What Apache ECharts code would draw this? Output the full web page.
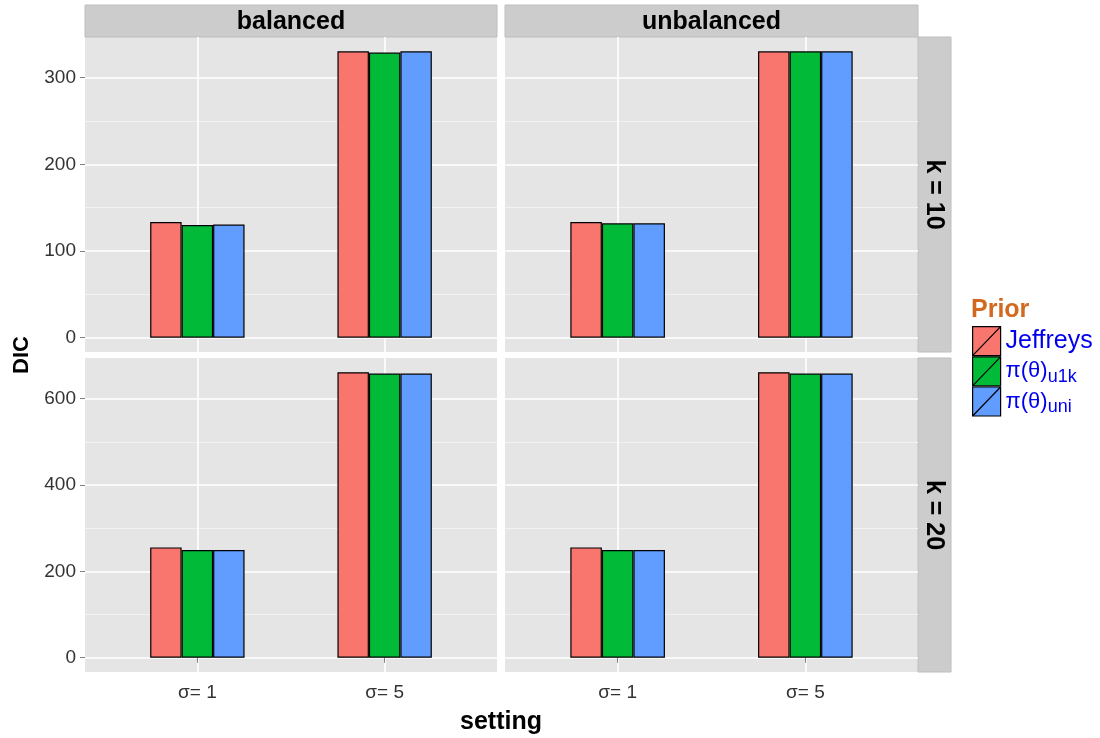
<!DOCTYPE html>
<html>
<head>
<meta charset="utf-8">
<script src="https://cdn.jsdelivr.net/npm/echarts@6/dist/echarts.min.js"></script>
<style>html,body{margin:0;padding:0;background:#fff}#c{width:1100px;height:738px}</style>
</head>
<body>
<div id="c"></div>
<script>
// ---- data ----
var settings = ['σ= 1', 'σ= 5'];
var settingPos = [1, 2];
var priors = ['Jeffreys', 'π(θ)_u1k', 'π(θ)_uni'];
var priorColors = ['#F8766D', '#00BA38', '#619CFF'];
var designs = ['balanced', 'unbalanced'];
var kLabels = ['k = 10', 'k = 20'];
// DIC values: [panel][prior] -> [σ=1, σ=5]
var balancedK10 = { Jeffreys: [133.5, 330.5], u1k: [130, 329], uni: [130.5, 330.5] };
var unbalancedK10 = { Jeffreys: [133.5, 330.5], u1k: [132, 330.5], uni: [132, 330.5] };
var balancedK20 = { Jeffreys: [255.5, 661], u1k: [249.5, 658], uni: [249.5, 658] };
var unbalancedK20 = { Jeffreys: [255.5, 661], u1k: [249.5, 658], uni: [249.5, 658] };
var yTicksK10 = [0, 100, 200, 300];
var yMinorK10 = [50, 150, 250];
var yTicksK20 = [0, 200, 400, 600];
var yMinorK20 = [100, 300, 500, 700];

var panels = [balancedK10, unbalancedK10, balancedK20, unbalancedK20];
var priorKeys = ['Jeffreys', 'u1k', 'uni'];

// ---- layout ----
var FONT = '"Liberation Sans", Arial, sans-serif';
var gridBoxes = [
  { left: 85, top: 37, width: 412, height: 315 },
  { left: 505, top: 37, width: 413, height: 315 },
  { left: 85, top: 358, width: 412, height: 314 },
  { left: 505, top: 358, width: 413, height: 314 }
];
var yRanges = [[-16.5, 347], [-16.5, 347], [-33, 694], [-33, 694]];

var grids = [], xAxes = [], yAxes = [], series = [];
gridBoxes.forEach(function (b, i) {
  grids.push({ left: b.left, top: b.top, width: b.width, height: b.height, show: true,
    backgroundColor: '#E5E5E5', borderWidth: 0, containLabel: false });
  var bottomRow = i >= 2;
  xAxes.push({
    type: 'value', gridIndex: i, min: 0.4, max: 2.6, z: 1,
    axisLine: { show: false },
    axisTick: { show: bottomRow, customValues: settingPos, length: 5, lineStyle: { color: '#7F7F7F' } },
    axisLabel: { show: bottomRow, customValues: settingPos, margin: 11, color: '#333333', fontSize: 19, fontFamily: FONT,
      formatter: function (v) { return settings[settingPos.indexOf(v)] || ''; } },
    splitLine: { show: true, lineStyle: { color: '#FFFFFF', width: 1.6 } }
  });
});
gridBoxes.forEach(function (b, i) {
  var leftCol = (i % 2) === 0;
  var ticks = i < 2 ? yTicksK10 : yTicksK20;
  yAxes.push({
    type: 'value', gridIndex: i, min: yRanges[i][0], max: yRanges[i][1], z: 1,
    axisLine: { show: false },
    axisTick: { show: leftCol, customValues: ticks, length: 5, lineStyle: { color: '#7F7F7F' } },
    axisLabel: { show: leftCol, customValues: ticks, margin: 9, color: '#333333', fontSize: 19, fontFamily: FONT },
    splitLine: { show: true, lineStyle: { color: '#FFFFFF', width: 1.6 } }
  });
});
gridBoxes.forEach(function (b, i) {
  var minor = i < 2 ? yMinorK10 : yMinorK20;
  yAxes.push({
    type: 'value', gridIndex: i, min: yRanges[i][0], max: yRanges[i][1], z: 0, position: 'left',
    axisLine: { show: false },
    axisTick: { show: false, customValues: minor },
    axisLabel: { show: false, customValues: minor },
    splitLine: { show: true, lineStyle: { color: '#F2F2F2', width: 1 } }
  });
});

panels.forEach(function (p, i) {
  priorKeys.forEach(function (k, j) {
    series.push({
      type: 'bar', name: priors[j], xAxisIndex: i, yAxisIndex: i, z: 2,
      barWidth: '16.8%', barGap: '0%',
      itemStyle: { color: priorColors[j], borderColor: '#000', borderWidth: 1.2 },
      data: p[k].map(function (v, n) { return [settingPos[n], v]; })
    });
  });
});

// strips and axis titles
var graphics = [];
designs.forEach(function (d, i) {
  var b = gridBoxes[i];
  graphics.push({ type: 'rect', shape: { x: b.left, y: 5, width: b.width, height: b.top - 5 },
    style: { fill: '#CCCCCC', stroke: '#BEBEBE', lineWidth: 1 } });
  graphics.push({ type: 'text', x: b.left + b.width / 2, y: 5 + (b.top - 5) / 2 + 1,
    style: { text: d, font: 'bold 25px ' + FONT, fill: '#000', align: 'center', verticalAlign: 'middle' } });
});
kLabels.forEach(function (k, r) {
  var b = gridBoxes[r * 2 + 1];
  var sx = b.left + b.width;
  graphics.push({ type: 'rect', shape: { x: sx, y: b.top, width: 33, height: b.height },
    style: { fill: '#CCCCCC', stroke: '#BEBEBE', lineWidth: 1 } });
  graphics.push({ type: 'text', x: sx + 16, y: b.top + b.height / 2, rotation: -Math.PI / 2,
    style: { text: k, font: 'bold 25px ' + FONT, fill: '#000', align: 'center', verticalAlign: 'middle' } });
});
graphics.push({ type: 'text', x: 22, y: 355, rotation: Math.PI / 2,
  style: { text: 'DIC', font: 'bold 22px ' + FONT, fill: '#000', align: 'center', verticalAlign: 'middle' } });
graphics.push({ type: 'text', x: 501, y: 722,
  style: { text: 'setting', font: 'bold 25px ' + FONT, fill: '#000', align: 'center', verticalAlign: 'middle' } });
graphics.push({ type: 'text', x: 971, y: 310,
  style: { text: 'Prior', font: 'bold 25px ' + FONT, fill: '#D2691E', align: 'left', verticalAlign: 'middle' } });

var chart = echarts.init(document.getElementById('c'), null, { renderer: 'canvas' });
chart.setOption({
  animation: false,
  backgroundColor: '#FFFFFF',
  textStyle: { fontFamily: FONT },
  grid: grids,
  xAxis: xAxes,
  yAxis: yAxes,
  legend: {
    data: priors, orient: 'vertical', left: 972, top: 326, padding: 0,
    itemWidth: 28, itemHeight: 29, itemGap: 0,
    icon: 'path://M0 0H28V29H0Z M0 29L28 0',
    itemStyle: { borderColor: '#000', borderWidth: 1.2 },
    formatter: function (name) {
      var parts = name.split('_');
      if (parts.length === 1) return '{j|' + name + '}';
      return '{m|' + parts[0] + '}{s|' + parts[1] + '}';
    },
    textStyle: {
      color: '#0000EE', fontSize: 22, fontFamily: FONT, padding: [0, 0, 0, 0],
      rich: {
        j: { color: '#0000EE', fontSize: 25, fontFamily: FONT },
        m: { color: '#0000EE', fontSize: 22, fontFamily: FONT },
        s: { color: '#0000EE', fontSize: 18, fontFamily: FONT, padding: [12, 0, 0, 0] }
      }
    }
  },
  graphic: graphics,
  series: series
});
</script>
</body>
</html>
